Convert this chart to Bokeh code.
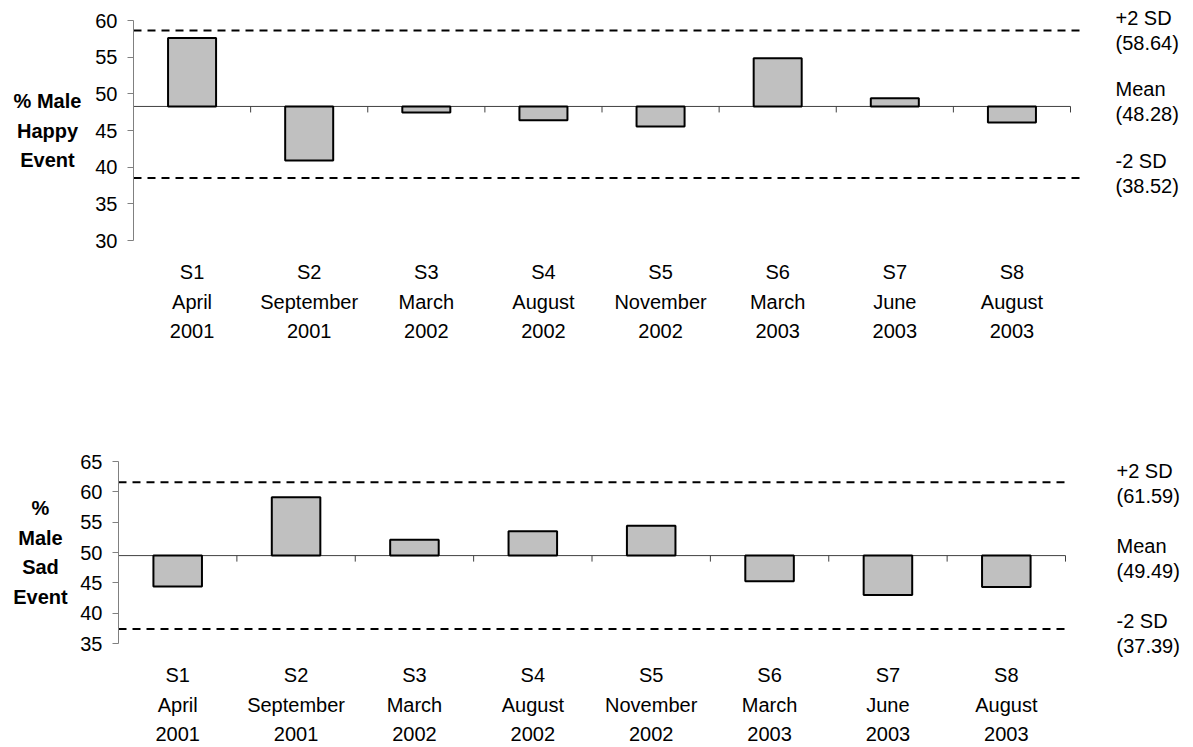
from bokeh.plotting import figure
from bokeh.models import Range1d, Label, LabelSet, ColumnDataSource, FixedTicker, LinearAxis
from bokeh.core.properties import value
from bokeh.layouts import column
from bokeh.embed import file_html
from bokeh.resources import INLINE

# Survey waves
sessions = ["S1", "S2", "S3", "S4", "S5", "S6", "S7", "S8"]
months = ["April", "September", "March", "August", "November", "March", "June", "August"]
years = ["2001", "2001", "2002", "2002", "2002", "2003", "2003", "2003"]

# % male, happy event
happy_values = [57.6, 40.9, 47.45, 46.4, 45.55, 54.85, 49.4, 46.1]
happy_mean = 48.28
happy_plus2sd = 58.64
happy_minus2sd = 38.52

# % male, sad event
sad_values = [44.4, 59.1, 52.1, 53.5, 54.4, 45.25, 43.0, 44.3]
sad_mean = 49.49
sad_plus2sd = 61.59
sad_minus2sd = 37.39

FONT = "Liberation Sans"
FS = "20px"
W = 1193


def control_chart(values, mean, plus2, minus2, title_lines, y_start, y_end, H,
                  axis_left_px, axis_right_px, axis_top_px, axis_bottom_px,
                  dash_right_px, title_dx, note_dx, note_shift):
    n = len(values)
    cat_w = (axis_right_px - axis_left_px) / n               # pixels per category
    px_per_unit = (axis_bottom_px - axis_top_px) / (y_end - y_start)

    x_range = Range1d(-axis_left_px / cat_w, (W - axis_left_px) / cat_w)
    y_range = Range1d(y_start - (H - axis_bottom_px) / px_per_unit,
                      y_end + axis_top_px / px_per_unit)

    p = figure(width=W, height=H, x_range=x_range, y_range=y_range,
               x_axis_location=None, y_axis_location=None, min_border=0,
               toolbar_location=None, output_backend="svg",
               outline_line_color=None, background_fill_color="white",
               border_fill_color="white")
    p.xgrid.visible = False
    p.ygrid.visible = False

    # value axis pinned at the left edge of the first category
    ax = LinearAxis(fixed_location=0, bounds=(y_start, y_end),
                    ticker=FixedTicker(ticks=list(range(y_start, y_end + 1, 5))))
    ax.major_tick_out = 6
    ax.major_tick_in = 0
    ax.minor_tick_line_color = None
    ax.axis_line_color = "#808080"
    ax.major_tick_line_color = "#808080"
    ax.major_label_text_font = FONT
    ax.major_label_text_font_size = FS
    ax.major_label_text_color = "black"
    ax.major_label_standoff = 10
    p.add_layout(ax, "left")

    # +/- 2 SD control limits
    dash_end = (dash_right_px - axis_left_px) / cat_w
    p.segment(x0=[0, 0], y0=[plus2, minus2], x1=[dash_end, dash_end], y1=[plus2, minus2],
              line_color="black", line_width=2, line_dash="8 6")

    # mean line acting as the category axis, with boundary ticks
    p.segment(x0=[0], y0=[mean], x1=[n], y1=[mean], line_color="#404040", line_width=1)
    tick_len = 6 / px_per_unit
    p.segment(x0=list(range(n + 1)), y0=[mean] * (n + 1),
              x1=list(range(n + 1)), y1=[mean - tick_len] * (n + 1),
              line_color="#404040", line_width=1)

    # deviation bars from the mean
    xs = [i + 0.5 for i in range(n)]
    src = ColumnDataSource(dict(x=xs, top=values, bottom=[mean] * n,
                                s=sessions, m=months, yr=years,
                                base=[y_start] * n))
    p.vbar(x="x", width=0.41, top="top", bottom="bottom", source=src,
           fill_color="#C0C0C0", line_color="black", line_width=2)

    # category labels, three rows below the value axis
    for col_name, off in (("s", 31), ("m", 61), ("yr", 90)):
        p.add_layout(LabelSet(x="x", y="base", text=col_name, source=src,
                              y_offset=-off, text_align="center",
                              text_baseline="middle", text_font=value(FONT),
                              text_font_size=value(FS), text_color="black"))

    # vertical title, one word group per line
    mid = (y_start + y_end) / 2
    k = len(title_lines)
    for j, line in enumerate(title_lines):
        dy = ((k - 1) / 2 - j) * 29.5
        p.add_layout(Label(x=0, y=mid, x_offset=title_dx, y_offset=dy, text=line,
                           text_align="center", text_baseline="middle",
                           text_font=FONT, text_font_size=FS,
                           text_font_style="bold", text_color="black"))

    # limit annotations to the right
    notes = [("+2 SD", plus2), ("Mean", mean), ("-2 SD", minus2)]
    for (name, val), shift in zip(notes, note_shift):
        for txt, dy in ((name, 12.5), ("(%.2f)" % val, -12.5)):
            p.add_layout(Label(x=n, y=val, x_offset=note_dx, y_offset=dy + shift,
                               text=txt, text_align="left", text_baseline="middle",
                               text_font=FONT, text_font_size=FS,
                               text_color="black"))
    return p


top = control_chart(happy_values, happy_mean, happy_plus2sd, happy_minus2sd,
                    ["% Male", "Happy", "Event"], 30, 60, 380,
                    axis_left_px=133, axis_right_px=1070, axis_top_px=20,
                    axis_bottom_px=240, dash_right_px=1083, title_dx=-86, note_dx=45,
                    note_shift=(0, 5, 4.5))
bottom = control_chart(sad_values, sad_mean, sad_plus2sd, sad_minus2sd,
                       ["%", "Male", "Sad", "Event"], 35, 65, 367,
                       axis_left_px=118, axis_right_px=1065, axis_top_px=81,
                       axis_bottom_px=263, dash_right_px=1067, title_dx=-78, note_dx=51,
                       note_shift=(-1, -2.5, -4))

layout = column(top, bottom)
with open("out.html", "w") as f:
    f.write(file_html(layout, INLINE))
